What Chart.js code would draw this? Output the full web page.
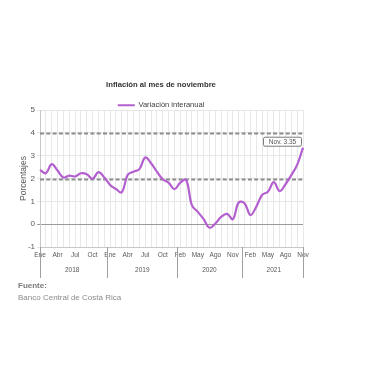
<!DOCTYPE html>
<html>
<head>
<meta charset="utf-8">
<script src="https://cdn.jsdelivr.net/npm/chart.js@4.4.0/dist/chart.umd.min.js"></script>
<style>
  body { margin: 0; background: #fff; font-family: "Liberation Sans", Arial, sans-serif; }
  #wrap { position: relative; width: 380px; height: 380px; }
  #note { position: absolute; left: 18px; top: 280px; font-size: 8px; line-height: 12px; color: #8a8a8a; }
  #note b { color: #7a7a7a; }
</style>
</head>
<body>
<div id="wrap">
  <canvas id="inflacion"></canvas>
  <div id="note"><b>Fuente:</b><br>Banco Central de Costa Rica</div>
</div>
<script>
// months per year (Ene 2020 is not in the series)
var m2018 = ['Ene','Feb','Mar','Abr','May','Jun','Jul','Ago','Set','Oct','Nov','Dic'];
var m2019 = ['Ene','Feb','Mar','Abr','May','Jun','Jul','Ago','Set','Oct','Nov','Dic'];
var m2020 = ['Feb','Mar','Abr','May','Jun','Jul','Ago','Set','Oct','Nov','Dic'];
var m2021 = ['Ene','Feb','Mar','Abr','May','Jun','Jul','Ago','Set','Oct','Nov'];
var years = ['2018','2019','2020','2021'];

// variación interanual (%)
var v2018 = [2.38, 2.23, 2.63, 2.35, 2.04, 2.13, 2.09, 2.23, 2.19, 1.99, 2.28, 2.05];
var v2019 = [1.72, 1.54, 1.40, 2.16, 2.30, 2.41, 2.92, 2.67, 2.30, 1.97, 1.82, 1.53];
var v2020 = [1.82, 1.94, 0.82, 0.54, 0.22, -0.16, 0.03, 0.32, 0.45, 0.22, 0.95];
var v2021 = [0.92, 0.40, 0.76, 1.28, 1.42, 1.84, 1.45, 1.75, 2.15, 2.60, 3.35];

var refLevels = [2, 4];   // dashed lines
var yTicks = [-1, 0, 1, 2, 3, 4, 5];

var labels = m2018.concat(m2019, m2020, m2021);
var values = v2018.concat(v2019, v2020, v2021);
var groups = [m2018.length, m2019.length, m2020.length, m2021.length];

var purple = '#b45fcf';
var font = '"Liberation Sans", Arial, sans-serif';

/* extras: dashed reference lines, year row, last value box */
var extras = {
  id: 'extras',
  beforeLayout: function(chart) {
    // legend sits closer to the plot than chart.js allows
    var lg = chart.legend;
    if (lg && !lg._tight) {
      var fit = lg.fit;
      lg.fit = function() { fit.call(this); this.height -= 9; };
      lg._tight = true;
    }
  },
  beforeDatasetsDraw: function(chart) {
    var ctx = chart.ctx, a = chart.chartArea, y = chart.scales.y;
    ctx.save();
    ctx.strokeStyle = '#8c8c8c';
    ctx.lineWidth = 1.8;
    ctx.setLineDash([4, 2.3]);
    refLevels.forEach(function(v) {
      var py = Math.round(y.getPixelForValue(v)) + 0.5;
      ctx.beginPath();
      ctx.moveTo(a.left, py);
      ctx.lineTo(a.right, py);
      ctx.stroke();
    });
    ctx.restore();
  },
  afterDatasetsDraw: function(chart) {
    var ctx = chart.ctx, a = chart.chartArea, x = chart.scales.x;
    ctx.save();
    // year groups
    ctx.strokeStyle = '#a0a0a0';
    ctx.lineWidth = 1;
    ctx.fillStyle = '#595959';
    ctx.font = '6.5px ' + font;
    ctx.textAlign = 'center';
    ctx.textBaseline = 'middle';
    var start = 0;
    groups.forEach(function(n, g) {
      var x0 = g === 0 ? a.left : x.getPixelForValue(start - 0.5);
      var x1 = g === groups.length - 1 ? a.right : x.getPixelForValue(start + n - 0.5);
      [x0, x1].forEach(function(px) {
        px = Math.round(px) + 0.5;
        ctx.beginPath();
        ctx.moveTo(px, a.bottom);
        ctx.lineTo(px, a.bottom + 31);
        ctx.stroke();
      });
      ctx.fillText(years[g], x.getPixelForValue(start + (n - 1) / 2), a.bottom + 23);
      start += n;
    });
    // last value label
    var meta = chart.getDatasetMeta(0);
    var last = meta.data[meta.data.length - 1];
    var i = values.length - 1;
    var w = 38, h = 9;
    var bx = last.x - w - 2, by = last.y - h - 2;
    ctx.beginPath();
    ctx.roundRect(bx + 0.5, by + 0.5, w, h, 1.5);
    ctx.fillStyle = '#fff';
    ctx.fill();
    ctx.strokeStyle = '#7a7a7a';
    ctx.stroke();
    ctx.fillStyle = '#555';
    ctx.font = '6.5px ' + font;
    ctx.fillText(labels[i] + '. ' + values[i].toFixed(2), bx + w / 2 + 0.5, by + h / 2 + 1);
    ctx.restore();
  }
};

new Chart(document.getElementById('inflacion'), {
  type: 'line',
  data: {
    labels: labels,
    datasets: [{
      label: 'Variación interanual',
      data: values,
      borderColor: purple,
      backgroundColor: purple,
      borderWidth: 2.2,
      pointRadius: 0,
      tension: 0.4,
      fill: false
    }]
  },
  options: {
    responsive: true,
    maintainAspectRatio: false,
    animation: false,
    layout: { padding: { left: 19, right: 77, top: 0, bottom: 100 } },
    plugins: {
      title: {
        display: true,
        text: 'Inflación al mes de noviembre',
        color: '#333',
        font: { size: 7.7, weight: 'bold', family: font },
        padding: { top: 80, bottom: 6.3 }
      },
      legend: {
        position: 'top',
        labels: {
          color: '#404040',
          boxWidth: 17,
          boxHeight: 2,
          padding: 6,
          font: { size: 7.5, family: font },
          generateLabels: function(chart) {
            return Chart.defaults.plugins.legend.labels.generateLabels(chart).map(function(l) {
              l.lineWidth = 0;
              return l;
            });
          }
        }
      },
      tooltip: { enabled: false }
    },
    scales: {
      x: {
        offset: false,
        grid: { color: '#e8e8e8', drawTicks: false },
        border: { color: '#c8c8c8' },
        ticks: {
          autoSkip: false,
          maxRotation: 0,
          padding: 4,
          color: '#595959',
          font: { size: 6.5, family: font },
          callback: function(v, i) { return i % 3 === 0 ? this.getLabelForValue(v) : ''; }
        },
        afterFit: function(s) { s.height = 33; }
      },
      y: {
        min: yTicks[0],
        max: yTicks[yTicks.length - 1],
        afterBuildTicks: function(s) { s.ticks = yTicks.map(function(v) { return { value: v }; }); },
        grid: {
          color: function(c) { return c.tick && c.tick.value === 0 ? '#9a9a9a' : '#e6e6e6'; },
          tickLength: 3
        },
        border: { color: '#c8c8c8' },
        ticks: {
          padding: 2,
          color: '#595959',
          font: { size: 8, family: font }
        },
        title: {
          display: true,
          text: 'Porcentajes',
          color: '#595959',
          padding: 0,
          font: { size: 8.5, family: font }
        },
        afterFit: function(s) { s.width = 21; }
      }
    }
  },
  plugins: [extras]
});
</script>
</body>
</html>
